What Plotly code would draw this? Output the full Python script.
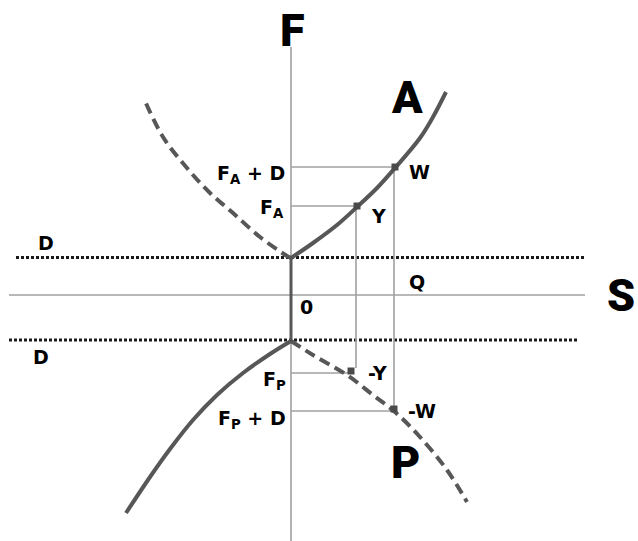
import plotly.graph_objects as go

# Coordinates in chart units (origin at the S/F axes crossing)
curve_A_x = [0, 22, 46, 66, 86, 104, 129, 142, 155]
curve_A_y = [37, 52, 70, 88, 107, 127, 157, 178, 203]

curve_A_dash_x = [0, -4, -31, -58, -81, -104, -128, -146]
curve_A_dash_y = [37, 39, 58, 82, 102, 127, 158, 194]

curve_P_x = [0, 22, 56, 82, 104, 129, 156, 176]
curve_P_y = [-46, -60, -80, -100, -117, -142, -175, -207]

curve_P_solid_x = [0, -21, -48, -74, -98, -121, -141, -165]
curve_P_solid_y = [-46, -59, -78, -100, -125, -154, -182, -218]

D_upper = 37.5
D_lower = -45
Y_point = (66, 89)
W_point = (104, 128)
negY_point = (60, -76)
negW_point = (103, -114)
FP_level = -78
FPD_level = -116

fig = go.Figure()

GRAY = "#a0a0a0"
DARK = "#575757"

def line(x, y, color, width, dash=None, shape="linear"):
    fig.add_trace(go.Scatter(x=x, y=y, mode="lines",
                             line=dict(color=color, width=width, dash=dash, shape=shape),
                             hoverinfo="skip"))

# axes
line([-282, 294], [0, 0], GRAY, 1.6)
line([0, 0], [248, -246], GRAY, 1.6)

# dotted D lines
line([-275, 295], [D_upper, D_upper], "#1a1a1a", 3, dash="3px,2px")
line([-282, 287], [D_lower, D_lower], "#1a1a1a", 3, dash="3px,2px")

# guide lines
line([0, W_point[0]], [W_point[1], W_point[1]], GRAY, 1.6)
line([0, Y_point[0]], [Y_point[1], Y_point[1]], GRAY, 1.6)
line([0, negY_point[0]], [FP_level, FP_level], GRAY, 1.6)
line([0, negW_point[0]], [FPD_level, FPD_level], GRAY, 1.6)
line([65, 65], [Y_point[1], -73], GRAY, 1.6)
line([103, 103], [W_point[1], -112], GRAY, 1.6)

# vertical segment between D lines
line([0, 0], [D_upper, D_lower], DARK, 3)

# curves
line(curve_A_x, curve_A_y, DARK, 4, shape="spline")
line(curve_A_dash_x, curve_A_dash_y, DARK, 4, dash="11px,6px", shape="spline")
line(curve_P_x, curve_P_y, DARK, 4, dash="11px,6px", shape="spline")
line(curve_P_solid_x, curve_P_solid_y, DARK, 4, shape="spline")

# small square markers
fig.add_trace(go.Scatter(x=[Y_point[0], W_point[0], negY_point[0], negW_point[0]],
                         y=[Y_point[1], W_point[1], negY_point[1], negW_point[1]],
                         mode="markers",
                         marker=dict(symbol="square", size=7, color="#4a4a4a"),
                         hoverinfo="skip"))

BIG_FONT = "Roboto"
SMALL_FONT = "DejaVu Sans"

def label(x, y, text, size, xanchor="center", yanchor="middle", big=False):
    fig.add_annotation(x=x, y=y, text=text, showarrow=False,
                       xanchor=xanchor, yanchor=yanchor, borderpad=0,
                       font=dict(family=BIG_FONT if big else SMALL_FONT, size=size,
                                 color="black", weight=900 if big else "bold"))

label(1, 265, "F", 45, big=True)
label(116, 198, "A", 45, big=True)
label(330, 0, "S", 45, big=True)
label(114, -167, "P", 45, big=True)

label(128, 123, "W", 19)
label(87, 79, "Y", 19)
label(86, -78, "-Y", 19)
label(131, -116, "-W", 19)
label(126, 13, "Q", 19)
label(15, -12, "0", 19)
label(-245, 52, "D", 19)
label(-250, -62, "D", 19)

label(-5, 121, "F<sub>A</sub> + D", 19, xanchor="right")
label(-6, 87, "F<sub>A</sub>", 19, xanchor="right")
label(-4, -85, "F<sub>P</sub>", 19, xanchor="right")
label(-4, -124, "F<sub>P</sub> + D", 19, xanchor="right")

fig.update_layout(
    width=638, height=541,
    margin=dict(l=0, r=0, t=0, b=0),
    paper_bgcolor="white", plot_bgcolor="white",
    showlegend=False,
    xaxis=dict(range=[-291, 347], visible=False, fixedrange=True),
    yaxis=dict(range=[-246, 295], visible=False, fixedrange=True),
)

fig.write_html("out.html", config={"displayModeBar": False},
               post_script="document.body.style.margin='0';")
